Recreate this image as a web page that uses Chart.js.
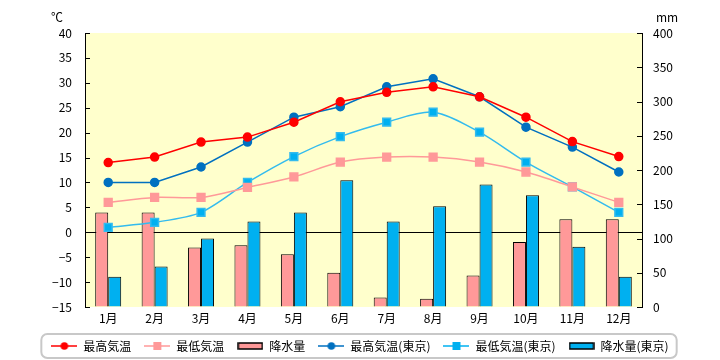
<!DOCTYPE html>
<html>
<head>
<meta charset="utf-8">
<script src="https://cdn.jsdelivr.net/npm/chart.js@4"></script>
<style>
  html, body { margin: 0; padding: 0; background: #fff; }
  #wrap { width: 720px; height: 360px; }
</style>
</head>
<body>
<div id="wrap"><canvas id="climate"></canvas></div>
<script>
const months = ['1月', '2月', '3月', '4月', '5月', '6月', '7月', '8月', '9月', '10月', '11月', '12月'];

// 気温 (℃)
const maxTemp = [14, 15.1, 18.1, 19.1, 22.1, 26.2, 28.1, 29.2, 27.2, 23.1, 18.2, 15.2];
const minTemp = [6, 7, 7, 9, 11.1, 14.1, 15.1, 15.1, 14.1, 12.1, 9.1, 6];
const maxTempTokyo = [10, 10, 13.1, 18.1, 23.1, 25.2, 29.2, 30.8, 27.2, 21.1, 17.1, 12.1];
const minTempTokyo = [1, 2, 4, 10, 15.2, 19.2, 22.1, 24.1, 20.1, 14.1, 9.1, 4];

// 降水量 (mm)
const rain = [138, 138, 87, 90, 77, 50, 14, 12, 46, 95, 128, 128];
const rainTokyo = [44, 59, 100, 125, 138, 185, 125, 147, 179, 163, 88, 44];

const font = { family: '"Noto Sans CJK JP", sans-serif', size: 12 };

// small legend icons: line with marker, or a bar box
function lineIcon(color, shape) {
  const c = document.createElement('canvas');
  c.width = 26; c.height = 12;
  const g = c.getContext('2d');
  g.strokeStyle = color; g.lineWidth = 1.5;
  g.beginPath(); g.moveTo(0, 6); g.lineTo(26, 6); g.stroke();
  g.fillStyle = color;
  if (shape === 'circle') {
    g.beginPath(); g.arc(13, 6, 3.8, 0, Math.PI * 2); g.fill();
  } else {
    g.fillRect(9, 2, 8, 8);
  }
  return c;
}
function barIcon(color) {
  const c = document.createElement('canvas');
  c.width = 26; c.height = 12;
  const g = c.getContext('2d');
  g.fillStyle = color;
  g.fillRect(1, 3, 24, 6);
  g.strokeStyle = '#000'; g.lineWidth = 1.5;
  g.strokeRect(1, 3, 24, 6);
  return c;
}

const bgPlugin = {
  id: 'bg',
  beforeDraw(chart) {
    const { ctx, chartArea: a } = chart;
    ctx.save();
    ctx.fillStyle = '#ffffcc';
    ctx.fillRect(a.left, a.top, a.right - a.left, a.bottom - a.top);
    ctx.restore();
  },
  afterDraw(chart) {
    const ctx = chart.ctx;
    ctx.save();
    // inner tick marks
    ctx.strokeStyle = '#000';
    ctx.lineWidth = 1;
    ['y', 'y1'].forEach(id => {
      const s = chart.scales[id];
      const x = id === 'y' ? s.right : s.left;
      const dir = id === 'y' ? 1 : -1;
      s.ticks.forEach(t => {
        const py = Math.round(s.getPixelForValue(t.value)) + 0.5;
        ctx.beginPath(); ctx.moveTo(x, py); ctx.lineTo(x + dir * 5, py); ctx.stroke();
      });
    });
    // unit labels
    ctx.fillStyle = '#000';
    ctx.font = '12px "Noto Sans CJK JP", sans-serif';
    ctx.textAlign = 'center';
    ctx.textBaseline = 'middle';
    ctx.fillText('℃', 57, 17);
    ctx.fillText('mm', 667, 17);
    // legend frame
    const lg = chart.legend;
    if (lg && lg.legendHitBoxes && lg.legendHitBoxes.length) {
      const hb = lg.legendHitBoxes;
      const l = Math.min(...hb.map(h => h.left)) - 10;
      const r = Math.max(...hb.map(h => h.left + h.width)) + 8;
      const t = hb[0].top - 6, b = hb[0].top + hb[0].height + 6;
      ctx.strokeStyle = '#c8c8c8';
      ctx.lineWidth = 2;
      ctx.beginPath();
      ctx.roundRect(l, t, r - l, b - t, 6);
      ctx.stroke();
    }
    ctx.restore();
  }
};

const ctx = document.getElementById('climate');

new Chart(ctx, {
  data: {
    labels: months,
    datasets: [
      { type: 'line', label: '最高気温', data: maxTemp, yAxisID: 'y', order: 0,
        borderColor: '#ff0000', backgroundColor: '#ff0000', borderWidth: 1.5,
        pointStyle: 'circle', pointRadius: 4, tension: 0,
        icon: lineIcon('#ff0000', 'circle') },
      { type: 'line', label: '最低気温', data: minTemp, yAxisID: 'y', order: 0,
        borderColor: '#ff9999', backgroundColor: '#ff9999', borderWidth: 1.5,
        pointStyle: 'rect', pointRadius: 5.5, tension: 0.3,
        icon: lineIcon('#ff9999', 'rect') },
      { type: 'bar', label: '降水量', data: rain, yAxisID: 'y1', order: 1,
        backgroundColor: '#ff9999', borderColor: '#000', borderWidth: 1,
        categoryPercentage: 0.56, barPercentage: 1,
        icon: barIcon('#ff9999') },
      { type: 'line', label: '最高気温(東京)', data: maxTempTokyo, yAxisID: 'y', order: 0,
        borderColor: '#0070c0', backgroundColor: '#0070c0', borderWidth: 1.5,
        pointStyle: 'circle', pointRadius: 4, tension: 0,
        icon: lineIcon('#0070c0', 'circle') },
      { type: 'line', label: '最低気温(東京)', data: minTempTokyo, yAxisID: 'y', order: 0,
        borderColor: '#33bbee', backgroundColor: '#00b0f0', borderWidth: 1.5,
        pointStyle: 'rect', pointRadius: 5.5, tension: 0.3,
        icon: lineIcon('#00b0f0', 'rect') },
      { type: 'bar', label: '降水量(東京)', data: rainTokyo, yAxisID: 'y1', order: 1,
        backgroundColor: '#00b0f0', borderColor: '#000', borderWidth: 1,
        categoryPercentage: 0.56, barPercentage: 1,
        icon: barIcon('#00b0f0') }
    ]
  },
  options: {
    responsive: true,
    maintainAspectRatio: false,
    animation: false,
    layout: { padding: { top: 33, left: 0, right: 0, bottom: -2 } },
    plugins: {
      tooltip: { enabled: false },
      legend: {
        position: 'bottom',
        labels: {
          font: font,
          color: '#000',
          usePointStyle: true,
          pointStyleWidth: 26,
          boxHeight: 12,
          padding: 13,
          generateLabels(chart) {
            return chart.data.datasets.map((ds, i) => ({
              text: ds.label,
              pointStyle: ds.icon,
              fillStyle: 'transparent',
              strokeStyle: 'transparent',
              lineWidth: 0,
              fontColor: '#000',
              datasetIndex: i,
              hidden: false
            }));
          }
        }
      }
    },
    scales: {
      x: {
        grid: { display: false, drawTicks: false },
        border: { display: false },
        ticks: { font: font, color: '#000', padding: 4, maxRotation: 0 },
        afterFit(s) { s.height = 20; }
      },
      y: {
        position: 'left',
        min: -15, max: 40,
        ticks: {
          stepSize: 5, font: font, color: '#000', padding: 13,
          callback: v => (v < 0 ? '−' + Math.abs(v) : String(v))
        },
        grid: {
          drawTicks: false,
          color: c => (c.tick && c.tick.value === 0 ? '#000' : 'rgba(0,0,0,0)'),
          lineWidth: 1
        },
        border: { display: true, color: '#000', width: 1 },
        afterFit(s) { s.width = 85; }
      },
      y1: {
        position: 'right',
        min: 0, max: 400,
        ticks: { stepSize: 50, font: font, color: '#000', padding: 11 },
        grid: { drawTicks: false, drawOnChartArea: false },
        border: { display: true, color: '#000', width: 1 },
        afterFit(s) { s.width = 78; }
      }
    }
  },
  plugins: [bgPlugin]
});
</script>
</body>
</html>
